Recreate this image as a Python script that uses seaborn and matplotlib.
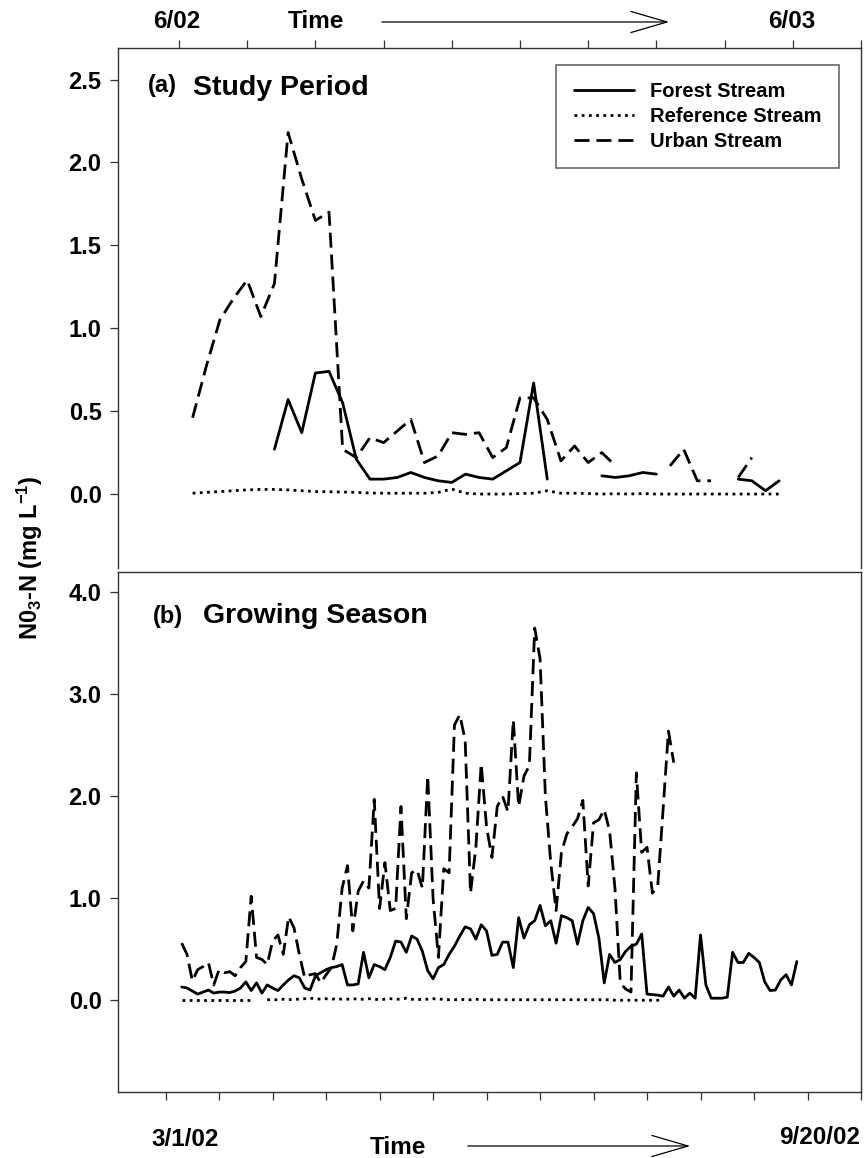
import numpy as np
import pandas as pd
import matplotlib
matplotlib.use("Agg")
import matplotlib.pyplot as plt
import seaborn as sns
from matplotlib.lines import Line2D

sns.set_style("white")
plt.rcParams["font.family"] = ["Liberation Sans", "DejaVu Sans"]
plt.rcParams["font.weight"] = "bold"
plt.rcParams["text.color"] = "black"
plt.rcParams["axes.labelcolor"] = "black"
plt.rcParams["xtick.color"] = "black"
plt.rcParams["ytick.color"] = "black"
plt.rcParams["mathtext.fontset"] = "custom"
plt.rcParams["mathtext.rm"] = "Liberation Sans:bold"
plt.rcParams["mathtext.it"] = "Liberation Sans:bold"
plt.rcParams["mathtext.bf"] = "Liberation Sans:bold"
plt.rcParams["mathtext.default"] = "regular"

nan = np.nan

# ---------------- Panel (a): Study Period (sample index 1..44) ----------------
sample_a = list(range(1, 45))
urban_a = [0.46, 0.77, 1.05, 1.18, 1.29, 1.07, 1.27, 2.18, 1.90, 1.65,
           1.70, 0.27, 0.22, 0.34, 0.31, 0.38, 0.45, 0.19, 0.23, 0.37,
           0.36, 0.37, 0.22, 0.28, 0.58, 0.58, 0.45, 0.20, 0.29, 0.19,
           0.25, 0.17, nan, nan, nan, 0.17, 0.27, 0.08, 0.08, nan,
           0.10, 0.22, nan, nan]
forest_a = [nan, nan, nan, nan, nan, nan, 0.27, 0.57, 0.37, 0.73,
            0.74, 0.55, 0.21, 0.09, 0.09, 0.10, 0.13, 0.10, 0.08, 0.07,
            0.12, 0.10, 0.09, 0.14, 0.19, 0.67, 0.09, nan, nan, nan,
            0.11, 0.10, 0.11, 0.13, 0.12, nan, nan, nan, nan, nan,
            0.09, 0.08, 0.02, 0.08]
reference_a = [0.005, 0.01, 0.015, 0.02, 0.025, 0.028, 0.028, 0.025, 0.02, 0.015,
               0.014, 0.012, 0.01, 0.006, 0.005, 0.005, 0.005, 0.005, 0.01, 0.03,
               0.005, 0.0, 0.0, 0.0, 0.003, 0.005, 0.02, 0.005, 0.005, 0.003,
               0.0, 0.002, 0.0, 0.003, 0.0, 0.0, 0.0, 0.0, 0.0, 0.0,
               0.0, 0.0, 0.0, 0.0]

# ---------------- Panel (b): Growing Season (sample index) ----------------
sample_forest_b = list(range(3, 119))
forest_b = [0.13, 0.12, 0.09, 0.06, 0.08, 0.10, 0.07, 0.08, 0.08, 0.075,
            0.09, 0.12, 0.18, 0.095, 0.17, 0.07, 0.15, 0.12, 0.095, 0.15,
            0.20, 0.24, 0.22, 0.12, 0.10, 0.24, 0.27, 0.30, 0.32, 0.33,
            0.35, 0.15, 0.15, 0.16, 0.47, 0.22, 0.35, 0.33, 0.30, 0.42,
            0.58, 0.57, 0.47, 0.63, 0.60, 0.48, 0.29, 0.21, 0.32, 0.35,
            0.45, 0.53, 0.63, 0.72, 0.70, 0.60, 0.74, 0.68, 0.44, 0.45,
            0.57, 0.57, 0.32, 0.81, 0.61, 0.74, 0.78, 0.93, 0.73, 0.78,
            0.56, 0.83, 0.81, 0.78, 0.55, 0.78, 0.91, 0.85, 0.61, 0.17,
            0.45, 0.37, 0.40, 0.48, 0.53, 0.55, 0.65, 0.06, 0.055, 0.05,
            0.04, 0.13, 0.04, 0.10, 0.02, 0.07, 0.02, 0.64, 0.15, 0.02,
            0.02, 0.02, 0.03, 0.47, 0.37, 0.37, 0.46, 0.42, 0.37, 0.18,
            0.095, 0.10, 0.20, 0.25, 0.15, 0.38]
sample_urban_b = list(range(3, 96))
urban_b = [0.56, 0.45, 0.19, 0.30, 0.33, 0.37, 0.15, 0.30, 0.27, 0.28,
           0.24, 0.32, 0.38, 1.02, 0.42, 0.40, 0.35, 0.58, 0.64, 0.45,
           0.82, 0.71, 0.45, 0.22, 0.25, 0.26, 0.17, 0.25, 0.32, 0.55,
           1.10, 1.32, 0.68, 1.07, 1.17, 1.10, 1.97, 0.90, 1.35, 0.88,
           0.90, 1.90, 0.80, 1.25, 1.28, 1.10, 2.20, 1.00, 0.42, 1.29,
           1.25, 2.70, 2.80, 2.55, 1.05, 1.50, 2.32, 1.70, 1.40, 1.90,
           2.00, 1.85, 2.75, 1.90, 2.20, 2.30, 3.65, 3.35, 2.00, 1.35,
           0.88, 1.45, 1.63, 1.70, 1.78, 1.96, 1.12, 1.74, 1.77, 1.87,
           1.66, 1.10, 0.17, 0.11, 0.08, 2.23, 1.45, 1.50, 1.05, 1.12,
           1.87, 2.64, 2.33]
sample_reference_b = list(range(3, 94))
reference_b = [0.0] * 14 + [nan, nan] + [
    0.005, 0.005, 0.005, 0.01, 0.005, 0.01, 0.01, 0.015, 0.02, 0.015,
    0.01, 0.015, 0.01, 0.015, 0.01, 0.01, 0.015, 0.01, 0.01, 0.015,
    0.01, 0.005, 0.01, 0.015, 0.01, 0.01, 0.02, 0.01, 0.005, 0.01,
    0.01, 0.015, 0.01, 0.01, 0.005, 0.005, 0.01, 0.005, 0.005, 0.01,
    0.005, 0.005, 0.005, 0.005, 0.005, 0.005, 0.005, 0.005, 0.005, 0.005,
    0.005, 0.005, 0.005, 0.005, 0.005, 0.005, 0.005, 0.005, 0.005, 0.005,
    0.005, 0.005, 0.005, 0.005, 0.005, 0.0, 0.0, 0.0, 0.0, 0.0,
    0.0, 0.0, 0.0, 0.0, 0.0]

legend_labels = ["Forest Stream", "Reference Stream", "Urban Stream"]

# ---------------- styles ----------------
LW = 2.0
SOLID = "-"
DOTTED = (0, (1.0, 1.6))
DASHED = (0, (5.4, 2.5))

W, H = 864, 1158
fig = plt.figure(figsize=(W / 100, H / 100), dpi=100)


def rect(l, t, r, b):
    return [l / W, 1 - b / H, (r - l) / W, (b - t) / H]


ax_a = fig.add_axes(rect(118, 48, 861, 568))
ax_b = fig.add_axes(rect(118, 572, 861, 1092))


def draw(ax, x, y, ls):
    x = np.asarray(x, float)
    y = np.asarray(y, float)
    seg = np.cumsum(np.isnan(y))
    df = pd.DataFrame({"x": x, "y": y, "seg": seg}).dropna()
    for _, g in df.groupby("seg"):
        if len(g) < 2:
            continue
        sns.lineplot(data=g, x="x", y="y", ax=ax, color="black", lw=LW,
                     linestyle=ls, estimator=None, sort=False, legend=False)


draw(ax_a, sample_a, reference_a, DOTTED)
draw(ax_a, sample_a, forest_a, SOLID)
draw(ax_a, sample_a, urban_a, DASHED)

draw(ax_b, sample_reference_b, reference_b, DOTTED)
draw(ax_b, sample_forest_b, forest_b, SOLID)
draw(ax_b, sample_urban_b, urban_b, DASHED)

SPC = "#333333"
TICK_FS = 17
for ax in (ax_a, ax_b):
    ax.set_xlabel("")
    ax.set_ylabel("")
    for sp in ax.spines.values():
        sp.set_color(SPC)
        sp.set_linewidth(1.0)
    ax.tick_params(axis="y", direction="out", length=5.8, width=0.9,
                   color=SPC, labelcolor="black", pad=6, labelsize=TICK_FS,
                   left=True)

ax_a.spines["bottom"].set_visible(False)
ax_a.set_xlim(-4.47, 50)
ax_a.set_ylim(-0.446, 2.69)
ax_a.set_yticks([0.0, 0.5, 1.0, 1.5, 2.0, 2.5])
ax_a.set_yticklabels(["0.0", "0.5", "1.0", "1.5", "2.0", "2.5"],
                     fontweight="bold", fontsize=TICK_FS)
ax_a.xaxis.tick_top()
ax_a.set_xticks(range(0, 51, 5))
ax_a.set_xticklabels([])
ax_a.tick_params(axis="x", direction="out", length=5.8, width=0.9, color=SPC,
                 top=True, bottom=False)

ax_b.set_xlim(-8.9, 130)
ax_b.set_ylim(-0.9, 4.2)
ax_b.set_yticks([0.0, 1.0, 2.0, 3.0, 4.0])
ax_b.set_yticklabels(["0.0", "1.0", "2.0", "3.0", "4.0"],
                     fontweight="bold", fontsize=TICK_FS)
ax_b.set_xticks(range(0, 131, 10))
ax_b.set_xticklabels([])
ax_b.tick_params(axis="x", direction="out", length=5.8, width=0.9, color=SPC,
                 bottom=True, top=False)
ax_b.set_zorder(3)
ax_b.patch.set_facecolor("white")

# panel titles
ax_a.text(0.0404, 0.915, "(a)", transform=ax_a.transAxes, fontsize=17,
          fontweight="bold", va="baseline", ha="left", color="black")
ax_a.text(0.101, 0.909, "Study Period", transform=ax_a.transAxes, fontsize=20.5,
          fontweight="bold", va="baseline", ha="left", color="black")
ax_b.text(0.047, 0.901, "(b)", transform=ax_b.transAxes, fontsize=17,
          fontweight="bold", va="baseline", ha="left", color="black")
ax_b.text(0.1144, 0.901, "Growing Season", transform=ax_b.transAxes,
          fontsize=20.5, fontweight="bold", va="baseline", ha="left",
          color="black")

# legend
handles = [Line2D([], [], color="black", lw=LW, linestyle=SOLID),
           Line2D([], [], color="black", lw=LW, linestyle=DOTTED),
           Line2D([], [], color="black", lw=LW, linestyle=DASHED)]
leg = ax_a.legend(handles, legend_labels, loc="upper right",
                  bbox_to_anchor=(0.970, 0.967), borderaxespad=0,
                  frameon=True, fancybox=False, edgecolor=SPC,
                  prop={"size": 14.5, "weight": "bold"}, handlelength=3.0,
                  handletextpad=0.8, labelspacing=0.3, borderpad=0.85,
                  labelcolor="black")
leg.get_frame().set_linewidth(1.1)


# figure texts (pixel coords, origin top-left)
def ft(x, y, s, **kw):
    fig.text(x / W, 1 - y / H, s, ha="center", va="center",
             fontweight="bold", color="black", **kw)


ft(177, 22, "6/02", fontsize=17.5)
ft(316, 22, "Time", fontsize=17.5)
ft(792, 22, "6/03", fontsize=17.5)
ft(185, 1140, "3/1/02", fontsize=17.5)
ft(398, 1148, "Time", fontsize=17.5)
ft(820, 1138, "9/20/02", fontsize=17.5)
ft(30, 558, r"N0$_3$-N (mg L$^{-1}$)", fontsize=17, rotation=90)


def arrow(x0, x1, y):
    fig.add_artist(matplotlib.patches.FancyArrowPatch(
        (x0 / W, 1 - y / H), (x1 / W, 1 - y / H), transform=fig.transFigure,
        arrowstyle="->,head_length=1.3,head_width=0.38", mutation_scale=20,
        lw=0.9, color="black"))


arrow(379, 672, 22)
arrow(465, 693, 1146)

fig.savefig("out.png", dpi=100)
